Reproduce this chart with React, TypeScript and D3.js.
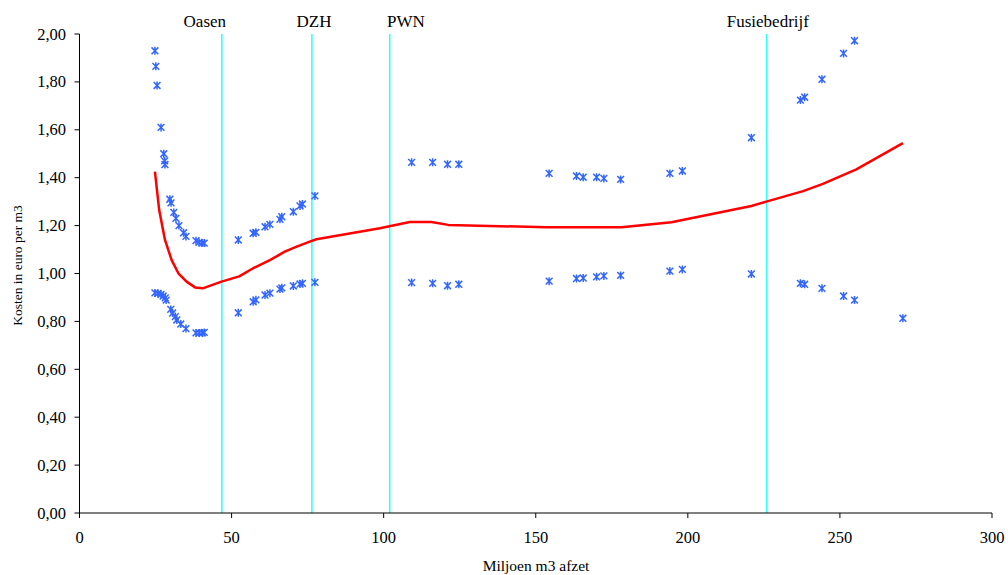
import React from "react";
import * as d3 from "d3";

const upperSeries: [number, number][] = [
  [24.8, 1.93], [25.1, 1.865], [25.5, 1.785], [26.8, 1.61], [27.7, 1.5], [28.0, 1.47], [28.1, 1.455],
  [29.7, 1.31], [30.1, 1.295], [31.0, 1.255], [31.7, 1.23], [32.7, 1.2], [34.2, 1.17], [35.0, 1.155],
  [38.3, 1.137], [39.3, 1.13], [40.3, 1.127], [41.0, 1.127],
  [52.2, 1.14], [57.1, 1.168], [58.0, 1.172], [61.0, 1.195], [62.6, 1.205], [65.9, 1.226], [66.5, 1.237],
  [70.3, 1.258], [72.5, 1.282], [73.3, 1.29], [77.4, 1.324],
  [109.2, 1.464], [116.1, 1.464], [121.0, 1.456], [124.7, 1.456], [154.4, 1.418], [163.4, 1.407],
  [165.6, 1.402], [170.0, 1.402], [172.4, 1.397], [177.9, 1.393], [194.1, 1.418], [198.2, 1.428],
  [220.9, 1.567], [237.0, 1.724], [238.4, 1.736], [244.1, 1.811], [251.2, 1.919], [254.8, 1.972],
];

const lowerSeries: [number, number][] = [
  [24.8, 0.919], [25.8, 0.917], [26.8, 0.913], [27.5, 0.906], [28.2, 0.898], [28.5, 0.889],
  [30.0, 0.85], [30.6, 0.835], [31.5, 0.82], [32.0, 0.806], [33.3, 0.789], [35.0, 0.77],
  [38.3, 0.752], [39.4, 0.752], [40.4, 0.752], [41.0, 0.754],
  [52.2, 0.836], [57.1, 0.882], [58.0, 0.89], [61.0, 0.91], [62.6, 0.918], [65.9, 0.935], [66.5, 0.94],
  [70.3, 0.948], [72.5, 0.956], [73.3, 0.959], [77.4, 0.963],
  [109.2, 0.962], [116.1, 0.959], [121.0, 0.949], [124.7, 0.955], [154.4, 0.968], [163.4, 0.979],
  [165.6, 0.981], [170.0, 0.986], [172.4, 0.99], [177.9, 0.992], [194.1, 1.01], [198.2, 1.017],
  [220.9, 0.998], [237.0, 0.959], [238.4, 0.955], [244.1, 0.938], [251.2, 0.906], [254.8, 0.889],
  [270.7, 0.813],
];

const trendLine: [number, number][] = [
  [24.8, 1.425], [26.2, 1.265], [28.1, 1.14], [30.3, 1.056], [32.5, 1.001], [35.2, 0.966],
  [38.0, 0.942], [40.5, 0.938], [46.7, 0.966], [52.5, 0.988], [57.1, 1.022], [62.6, 1.056],
  [67.5, 1.091], [71.4, 1.112], [75.7, 1.133], [77.9, 1.143], [98.75, 1.189], [108.6, 1.215],
  [115.7, 1.215], [121.2, 1.203], [153.5, 1.193], [178.2, 1.193], [194.6, 1.214], [203.9, 1.238],
  [220.9, 1.282], [225.8, 1.3], [237.9, 1.344], [244.4, 1.374], [255.4, 1.435], [270.7, 1.544],
];

const companyNames = ["Oasen", "DZH", "PWN", "Fusiebedrijf"];
const companyVolumes = [46.8, 76.4, 102.0, 225.9];
const companyLabelAt = [41.2, 77.1, 107.3, 226.3];

const xTicks = [0, 50, 100, 150, 200, 250, 300];
const yTicks = [0, 0.2, 0.4, 0.6, 0.8, 1.0, 1.2, 1.4, 1.6, 1.8, 2.0];

const xTitle = "Miljoen m3 afzet";
const yTitle = "Kosten in euro per m3";

export default function App() {
  const W = 1008, H = 575;
  const left = 79.5, right = 992, top = 34, bottom = 513;
  const x = d3.scaleLinear().domain([0, 300]).range([left, right]);
  const y = d3.scaleLinear().domain([0, 2]).range([bottom, top]);
  const line = d3.line<[number, number]>().x(d => x(d[0])).y(d => y(d[1]));
  const font = "'Liberation Serif', 'Times New Roman', serif";
  const fmt = (v: number) => v.toFixed(2).replace(".", ",");
  const star = "M-3.4,-3.4L3.4,3.4M-3.4,3.4L3.4,-3.4M0,-4L0,4";
  const blue = "#3366FF";

  return (
    <svg width={W} height={H} style={{ position: "absolute", left: 0, top: 0 }} fontFamily={font}>
      <rect width={W} height={H} fill="#fff" />
      {companyVolumes.map((v, i) => (
        <g key={i}>
          <line x1={x(v)} x2={x(v)} y1={top} y2={bottom} stroke="#33FFFF" strokeWidth={1.6} />
          <text x={x(companyLabelAt[i])} y={26.5} textAnchor="middle" fontSize={17} fill="#000">{companyNames[i]}</text>
        </g>
      ))}
      <line x1={left} x2={left} y1={top} y2={bottom} stroke="#000" strokeWidth={1} />
      <line x1={left} x2={right} y1={bottom} y2={bottom} stroke="#000" strokeWidth={1} />
      {yTicks.map((t, i) => (
        <g key={i}>
          <line x1={left - 5} x2={left} y1={y(t)} y2={y(t)} stroke="#000" />
          <text x={66} y={y(t) + 5.5} textAnchor="end" fontSize={16.5} fill="#000">{fmt(t)}</text>
        </g>
      ))}
      {xTicks.map((t, i) => (
        <g key={i}>
          <line x1={x(t)} x2={x(t)} y1={bottom} y2={bottom + 5} stroke="#000" />
          <text x={x(t)} y={543} textAnchor="middle" fontSize={16.5} fill="#000">{t}</text>
        </g>
      ))}
      <text x={536} y={571} textAnchor="middle" fontSize={15.5} fill="#000">{xTitle}</text>
      <text transform={`translate(22,${(top + bottom) / 2 - 8}) rotate(-90)`} textAnchor="middle" fontSize={13.5} fill="#000">{yTitle}</text>
      {[...upperSeries, ...lowerSeries].map((d, i) => (
        <path key={i} d={star} transform={`translate(${x(d[0])},${y(d[1])})`} stroke={blue} strokeWidth={1.5} fill="none" />
      ))}
      <path d={line(trendLine) || ""} fill="none" stroke="#FF0000" strokeWidth={2.5} strokeLinejoin="round" />
    </svg>
  );
}
